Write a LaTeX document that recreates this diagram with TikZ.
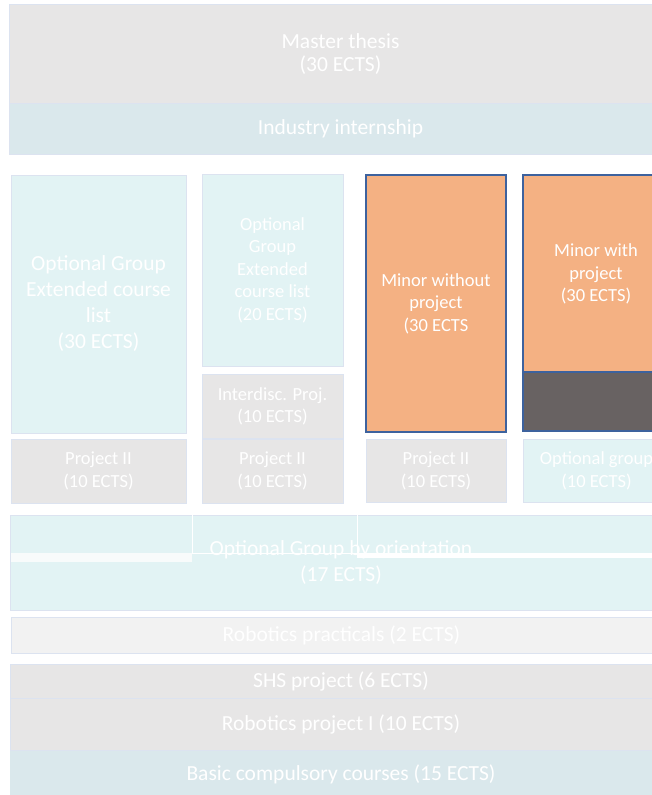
\documentclass[tikz,border=0pt]{standalone}
\usepackage{fontspec}
\setmainfont{Carlito}
\usepackage{tikz}

\definecolor{slabgrey}{HTML}{E7E6E6}
\definecolor{slablight}{HTML}{F2F2F2}
\definecolor{slabblue}{HTML}{DAE8EC}
\definecolor{slabteal}{HTML}{E2F3F4}
\definecolor{minororange}{HTML}{F4B183}
\definecolor{minordark}{HTML}{686262}
\definecolor{minoredge}{HTML}{3D629E}
\definecolor{thinedge}{HTML}{DCE3F0}
\definecolor{stripwhite}{HTML}{F8FBFB}

\newcommand\bigtxt{\fontsize{21.5}{23}\selectfont}
\newcommand\widetxt{\fontsize{21.5}{26}\selectfont}
\newcommand\smalltxt{\fontsize{18.5}{22.5}\selectfont}

\tikzset{
  block/.style={draw=thinedge, line width=0.8pt, text=white, align=center,
    inner sep=0pt, outer sep=0pt},
  minorblock/.style={block, draw=minoredge, line width=1.3pt},
}

\begin{document}
\begin{tikzpicture}[x=1pt,y=-1pt]
			%%%%% START %%%%%
			\useasboundingbox (0,0) rectangle (652,795);
			\clip (0,0) rectangle (652,795);
			
			% thesis and internship on top
			\node[block, fill=slabgrey, minimum width=663pt, minimum height=100pt, font=\bigtxt] (thesis) at (340.5,54) {Master thesis\\(30 ECTS)};
			\node[block, fill=slabblue, minimum width=663pt, minimum height=51pt, font=\bigtxt] (internship) at (340.5,128.5) {Industry internship};
			
			% first column
			\node[block, fill=slabteal, minimum width=175pt, minimum height=258pt, font=\widetxt] (extbig) at (98.5,304) {Optional Group\\Extended course\\list\\(30 ECTS)};
			\node[block, fill=slabgrey, minimum width=175pt, minimum height=64pt, font=\smalltxt] (projA) at (98.5,471) {Project II\\(10 ECTS)};
			
			% second column
			\node[block, fill=slabteal, minimum width=141pt, minimum height=192pt, font=\smalltxt] (extsmall) at (272.5,270) {Optional\\Group\\Extended\\course list\\(20 ECTS)};
			\node[block, fill=slabgrey, minimum width=141pt, minimum height=64pt, font=\smalltxt] (interdisc) at (272.5,406.5) {Interdisc. Proj.\\(10 ECTS)};
			\node[block, fill=slabgrey, minimum width=141pt, minimum height=64pt, font=\smalltxt] (projB) at (272.5,471) {Project II\\(10 ECTS)};
			
			% third column
			\node[minorblock, fill=minororange, minimum width=140pt, minimum height=257pt, font=\smalltxt] (minorA) at (436,303.5) {Minor without\\project\\(30 ECTS};
			\node[block, fill=slabgrey, minimum width=140pt, minimum height=63pt, font=\smalltxt] (projC) at (436,471) {Project II\\(10 ECTS)};
			
			% fourth column
			\node[minorblock, fill=minororange, minimum width=146pt, minimum height=198pt, font=\smalltxt] (minorB) at (596,274) {Minor with\\project\\(30 ECTS)};
			\node[minorblock, fill=minordark, minimum width=146pt, minimum height=59pt] (minorproj) at (596,401.5) {};
			\node[block, fill=slabteal, minimum width=147pt, minimum height=63pt, font=\smalltxt] (optD) at (596.5,471) {Optional group\\(10 ECTS)};
			
			% orientation group with its leftover white edges
			\node[block, fill=slabteal, minimum width=662pt, minimum height=95pt, font=\widetxt] (orient) at (341,562.5) {Optional Group by orientation\\(17 ECTS)};
			\fill[stripwhite] (11,553) rectangle (192,562);
			\draw[white, line width=0.8pt] (192,513) -- (192,553) -- (357,553);
			\draw[white, line width=0.8pt] (357,513) -- (357,557);
			\fill[white] (357,553) rectangle (672,558);
			
			% bottom bars
			\node[block, fill=slablight, minimum width=661pt, minimum height=36pt, font=\bigtxt] (practicals) at (341.5,635) {Robotics practicals (2 ECTS)};
			\node[block, fill=slabgrey, minimum width=662pt, minimum height=34pt, font=\bigtxt] (shs) at (341,681.5) {SHS project (6 ECTS)};
			\node[block, fill=slabgrey, minimum width=662pt, minimum height=52pt, font=\bigtxt] (robproj) at (341,724.5) {Robotics project I (10 ECTS)};
			\node[block, draw=none, fill=slabblue, minimum width=662pt, minimum height=47pt, font=\bigtxt] (basic) at (341,774) {Basic compulsory courses (15 ECTS)};
			
			%%%%% END %%%%%
\end{tikzpicture}
\end{document}
